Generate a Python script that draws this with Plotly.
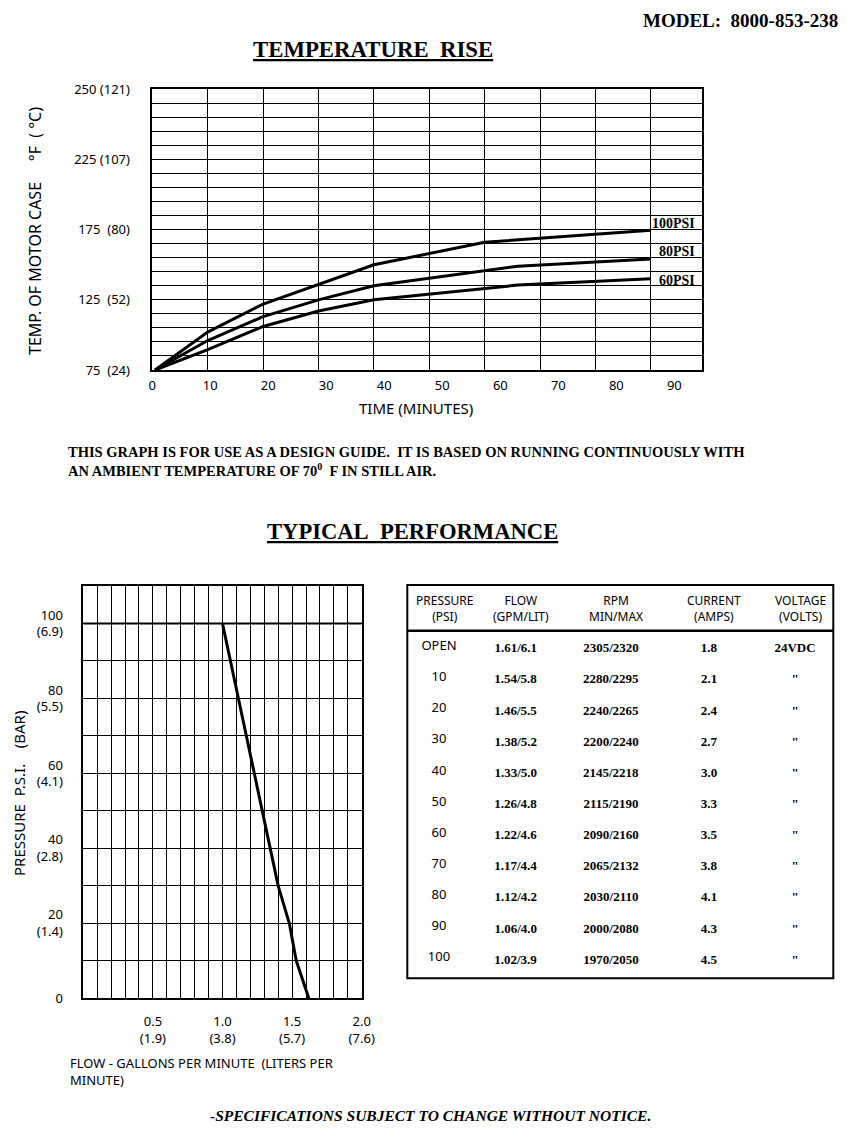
import plotly.graph_objects as go

W, H = 847, 1130
NB = "\u00a0"

# ---------------- Temperature rise data (time in minutes, temp in deg F on grid scale) ----------------
time_100psi = [0.5, 10, 20, 30, 40, 60, 90]
temp_100psi = [75, 102, 122, 136, 150, 166, 174.5]
time_80psi = [0.5, 10, 20, 30, 40, 66, 90]
temp_80psi = [75, 96, 113, 125, 135, 149, 154]
time_60psi = [0.5, 10, 20, 30, 40, 66, 90]
temp_60psi = [75, 89.5, 106, 117, 125, 135.5, 140]
series_names = ["100PSI", "80PSI", "60PSI"]
label_yshift = [7, 8, -2]

time_tick_vals = [0, 10, 20, 30, 40, 50, 60, 70, 80, 90]
temp_label_vals = [75, 125, 175, 225, 275]
temp_label_text = ["75" + NB * 2 + "(24)", "125" + NB * 2 + "(52)", "175" + NB * 2 + "(80)",
                   "225 (107)", "250 (121)"]

# ---------------- Performance curve ----------------
curve_pressure = [100, 30, 20, 10, 0]
curve_flow = [1.0, 1.40, 1.48, 1.53, 1.62]
max_pressure = 100
flow_label_vals = [0.5, 1.0, 1.5, 2.0]
flow_label_text = ["0.5<br>(1.9)", "1.0<br>(3.8)", "1.5<br>(5.7)", "2.0<br>(7.6)"]
press_label_vals = [0, 20, 40, 60, 80, 100]
press_label_text = ["0", "20<br>(1.4)", "40<br>(2.8)", "60<br>(4.1)", "80<br>(5.5)", "100<br>(6.9)"]

# ---------------- Table ----------------
tbl_pressure = ["OPEN", "10", "20", "30", "40", "50", "60", "70", "80", "90", "100"]
tbl_flow = ["1.61/6.1", "1.54/5.8", "1.46/5.5", "1.38/5.2", "1.33/5.0", "1.26/4.8",
            "1.22/4.6", "1.17/4.4", "1.12/4.2", "1.06/4.0", "1.02/3.9"]
tbl_rpm = ["2305/2320", "2280/2295", "2240/2265", "2200/2240", "2145/2218", "2115/2190",
           "2090/2160", "2065/2132", "2030/2110", "2000/2080", "1970/2050"]
tbl_current = ["1.8", "2.1", "2.4", "2.7", "3.0", "3.3", "3.5", "3.8", "4.1", "4.3", "4.5"]
tbl_voltage = ["24VDC", '"', '"', '"', '"', '"', '"', '"', '"', '"', '"']
tbl_headers = ["PRESSURE<br>(PSI)", "FLOW<br>(GPM/LIT)", "RPM<br>MIN/MAX", "CURRENT<br>(AMPS)", "VOLTAGE<br>(VOLTS)"]

SERIF = "Liberation Serif"
SANS = "Noto Sans"

fig = go.Figure()

series = [(time_100psi, temp_100psi), (time_80psi, temp_80psi), (time_60psi, temp_60psi)]
for (tx, ty), name, ys in zip(series, series_names, label_yshift):
    fig.add_trace(go.Scatter(x=tx, y=ty, mode="lines", line=dict(color="black", width=3),
                             xaxis="x", yaxis="y", name=name, hoverinfo="skip"))
    fig.add_annotation(x=tx[-1], y=ty[-1], xref="x", yref="y", text="<b>" + name + "</b>",
                       showarrow=False, xanchor="right", yanchor="middle", xshift=46, yshift=ys,
                       font=dict(family=SERIF, size=14, color="black"))

# carrier trace for the tick-label axis of the top chart
fig.add_trace(go.Scatter(x=[None], y=[None], xaxis="x3", yaxis="y", hoverinfo="skip"))

fig.add_trace(go.Scatter(x=curve_flow, y=curve_pressure, mode="lines",
                         line=dict(color="black", width=3), xaxis="x2", yaxis="y2", hoverinfo="skip"))

fig.add_shape(type="line", xref="x2 domain", x0=0, x1=1, yref="y2", y0=max_pressure, y1=max_pressure,
              line=dict(color="black", width=2))

# table
tbl_left, tbl_right, tbl_top, tbl_bottom, tbl_head = 407.3, 833.3, 585, 978.3, 630.7
col_w = [63.4, 90, 100.6, 95.4, 76.6]
tx0, tx1 = tbl_left / W, tbl_right / W
ty_top, ty_bot = 1 - tbl_top / H, 1 - tbl_bottom / H
bold = lambda arr: ["<b>" + s + "</b>" for s in arr]
fig.add_trace(go.Table(
    domain=dict(x=[tx0, tx1], y=[ty_bot, ty_top]),
    columnwidth=col_w,
    header=dict(values=[NB] * len(tbl_headers), height=tbl_head - tbl_top + 1.5, align="center",
                line=dict(width=0, color="rgba(0,0,0,0)"), fill=dict(color="white"),
                font=dict(family=SANS, size=12, color="black")),
    cells=dict(values=[tbl_pressure, bold(tbl_flow), bold(tbl_rpm), bold(tbl_current), bold(tbl_voltage)],
               height=31.15, align="center",
               line=dict(width=0, color="rgba(0,0,0,0)"), fill=dict(color="white"),
               font=dict(family=[SANS, SERIF, SERIF, SERIF, SERIF], size=[13, 13, 13, 13, 13], color="black")),
))
fig.add_shape(type="rect", xref="paper", yref="paper", x0=tx0, x1=tx1, y0=ty_bot, y1=ty_top,
              line=dict(color="black", width=2))
fig.add_shape(type="line", xref="paper", yref="paper", x0=tx0, x1=tx1, y0=1 - tbl_head / H, y1=1 - tbl_head / H,
              line=dict(color="black", width=2.5))

grid = dict(showgrid=True, gridcolor="black", gridwidth=1, showline=True, mirror=True,
            linecolor="black", linewidth=1.5, zeroline=False, ticks="", fixedrange=True, tickangle=0,
            automargin=False)

def minor(t0, dt):
    return dict(tickmode="linear", tick0=t0, dtick=dt, showgrid=True, gridcolor="black", gridwidth=1, ticks="")

fig.update_layout(
    template="none",
    width=W, height=H, margin=dict(l=0, r=0, t=0, b=0, pad=0, autoexpand=False), autosize=False,
    paper_bgcolor="white", plot_bgcolor="white", showlegend=False,
    font=dict(family=SANS, color="black", size=13),
    xaxis=dict(domain=[152.3 / W, 701.7 / W], range=[0, 99.17], anchor="y",
               tickmode="array", tickvals=time_tick_vals, showticklabels=False, **grid),
    xaxis3=dict(overlaying="x", anchor="y", side="bottom", range=[0, 94.72],
                tickmode="array", tickvals=time_tick_vals, ticktext=[str(v) for v in time_tick_vals],
                showgrid=False, showline=False, zeroline=False, ticks="", ticklabelstandoff=6,
                tickfont=dict(size=13), fixedrange=True, tickangle=0, automargin=False),
    yaxis=dict(domain=[1 - 370 / H, 1 - 89.3 / H], range=[75, 275], anchor="x",
               tickmode="array", tickvals=temp_label_vals, ticktext=temp_label_text,
               minor=minor(75, 10),
               ticklabelstandoff=18, tickfont=dict(size=13), **grid),
    xaxis2=dict(domain=[83.3 / W, 361.7 / W], range=[0, 2.0], anchor="y2",
                tickmode="array", tickvals=flow_label_vals, ticktext=flow_label_text,
                minor=minor(0, 0.1),
                ticklabelstandoff=10, tickfont=dict(size=13), **grid),
    yaxis2=dict(domain=[1 - 998.3 / H, 1 - 586 / H], range=[0, 110], anchor="x2",
                tickmode="array", tickvals=press_label_vals, ticktext=press_label_text,
                minor=minor(0, 10),
                ticklabelstandoff=16, tickfont=dict(size=13), **grid),
)

def txt(x, y, text, size, family=SANS, xanchor="center", yanchor="middle", angle=0, align="center"):
    fig.add_annotation(x=x / W, y=1 - y / H, xref="paper", yref="paper", text=text, showarrow=False,
                       xanchor=xanchor, yanchor=yanchor, textangle=angle, align=align,
                       font=dict(family=family, size=size, color="black"))

# table header texts, centred over each column
edge = tbl_left
for wdt, head in zip(col_w, tbl_headers):
    txt(edge + wdt / 2 + 5, (tbl_top + tbl_head) / 2 + 1, head, 12)
    edge += wdt

txt(840, 20, "<b>MODEL:" + NB * 2 + "8000-853-238</b>", 19, SERIF, xanchor="right")
txt(373, 50, "<b><u>TEMPERATURE" + NB * 2 + "RISE</u></b>", 22.8, SERIF)
txt(416, 408, "TIME (MINUTES)", 15)
txt(35, 231, "TEMP. OF MOTOR CASE" + NB * 5 + "°F" + NB * 2 + "(" + NB + "°C)", 16, angle=-90)
txt(66, 442, "<b>THIS GRAPH IS FOR USE AS A DESIGN GUIDE." + NB * 2 +
    "IT IS BASED ON RUNNING CONTINUOUSLY WITH<br>AN AMBIENT TEMPERATURE OF 70<sup>0</sup>" + NB +
    " F IN STILL AIR.</b>", 14.5, SERIF, xanchor="left", yanchor="top", align="left")
txt(412, 531, "<b><u>TYPICAL" + NB * 2 + "PERFORMANCE</u></b>", 22.6, SERIF)
txt(19, 794, "PRESSURE" + NB * 2 + "P.S.I." + NB * 4 + "(BAR)", 15, angle=-90)
txt(68, 1052, "FLOW - GALLONS PER MINUTE" + NB * 2 + "(LITERS PER<br>MINUTE)", 13,
    xanchor="left", yanchor="top", align="left")
txt(430, 1115, "<b><i>-SPECIFICATIONS SUBJECT TO CHANGE WITHOUT NOTICE.</i></b>", 15.5, SERIF)

fig.write_html("out.html", config={"responsive": False, "displayModeBar": False})
